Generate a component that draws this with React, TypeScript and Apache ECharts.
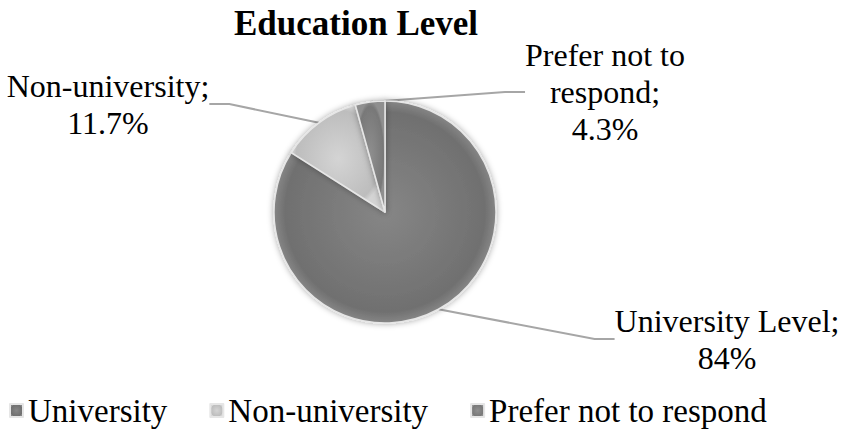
import React, { useEffect, useRef } from "react";
import * as echarts from "echarts";

const categories = ["University", "Non-university", "Prefer not to respond"];
const values = [84, 11.7, 4.3];
const labelNames = ["University Level", "Non-university", "Prefer not to\nrespond"];
const baseColors = [
  ["#868686", "#707070"],
  ["#d4d4d4", "#bdbdbd"],
  ["#8f8f8f", "#787878"],
];
const labelPos = [
  [727, 339],
  [108, 104],
  [605, 92],
];

export default function App() {
  const ref = useRef<HTMLDivElement>(null);
  useEffect(() => {
    document.body.style.margin = "0";
    const chart = echarts.init(ref.current!, undefined, { renderer: "svg" });
    const font = "Liberation Serif";
    chart.setOption({
      animation: false,
      backgroundColor: "#ffffff",
      textStyle: { fontFamily: font },
      title: {
        text: "Education Level",
        left: 351,
        textAlign: "center",
        top: 1,
        textStyle: { fontFamily: font, fontSize: 35, fontWeight: "bold", color: "#000" },
      },
      legend: {
        left: 4,
        top: 389,
        itemWidth: 13,
        itemHeight: 13,
        itemGap: 42,
        icon: "rect",
        textStyle: { fontFamily: font, fontSize: 33, color: "#000" },
        data: categories,
      },
      series: [
        {
          type: "pie",
          center: [385, 212],
          radius: 111,
          startAngle: 90,
          clockwise: true,
          data: categories.map((c, i) => ({
            name: c,
            value: values[i],
            itemStyle: {
              color: new echarts.graphic.RadialGradient(0.5, 0.5, 0.5, [
                { offset: 0, color: baseColors[i][0] },
                { offset: 0.9, color: baseColors[i][1] },
                { offset: 1, color: baseColors[i][0] },
              ]),
            },
          })),
          itemStyle: {
            borderColor: "#e6e6e6",
            borderWidth: 1.5,
            shadowBlur: 6,
            shadowColor: "rgba(0,0,0,0.35)",
          },
          label: {
            show: true,
            position: "outside",
            fontFamily: font,
            fontSize: 32,
            lineHeight: 37,
            color: "#000",
            align: "center",
            formatter: (p: any) => `${labelNames[p.dataIndex]};\n${p.value}%`,
          },
          labelLine: {
            show: true,
            length: 20,
            length2: 20,
            lineStyle: { color: "#a6a6a6", width: 2 },
          },
          labelLayout: (p: any) => ({
            x: labelPos[p.dataIndex][0],
            y: labelPos[p.dataIndex][1],
            align: "center",
            verticalAlign: "middle",
          }),
          emphasis: { disabled: true },
        },
      ],
    });
    return () => chart.dispose();
  }, []);
  return <div ref={ref} style={{ width: 846, height: 429 }} />;
}
